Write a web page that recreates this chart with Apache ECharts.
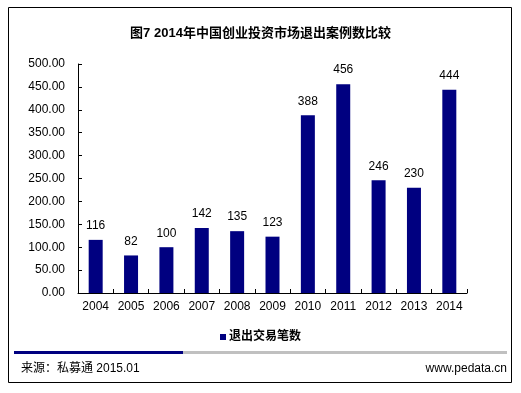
<!DOCTYPE html>
<html><head><meta charset="utf-8">
<script src="https://cdn.jsdelivr.net/npm/echarts@6/dist/echarts.min.js"></script>
<style>html,body{margin:0;padding:0;background:#fff}#c{width:521px;height:393px}</style>
</head><body><div id="c"></div>
<script>
const categories = ['2004','2005','2006','2007','2008','2009','2010','2011','2012','2013','2014'];
const exitCounts = [116,82,100,142,135,123,388,456,246,230,444];
const seriesName = '退出交易笔数';
const titleText = '图7 2014年中国创业投资市场退出案例数比较';
const sourceText = '来源：私募通 2015.01';
const siteText = 'www.pedata.cn';

const chart = echarts.init(document.getElementById('c'), null, {renderer:'canvas'});
const latin = '"Liberation Sans", Arial, sans-serif';
const cjk = '"Liberation Sans", "Noto Sans CJK SC", sans-serif';
chart.setOption({
  animation:false,
  backgroundColor:'#fff',
  title:{text:titleText,left:'center',top:22,textStyle:{fontSize:13,fontWeight:'bold',color:'#000',fontFamily:cjk}},
  legend:{data:[seriesName],left:'center',top:326,icon:'rect',itemWidth:6,itemHeight:6,itemGap:4,
    textStyle:{fontSize:12,fontWeight:'bold',color:'#000',fontFamily:cjk,padding:[0,0,0,-2]}},
  grid:{left:78,right:54,top:64,bottom:100,containLabel:false},
  xAxis:{type:'category',data:categories,
    axisLine:{lineStyle:{color:'#000',width:1}},
    axisTick:{show:true,inside:true,length:4,lineStyle:{color:'#000'}},
    axisLabel:{color:'#000',fontSize:12,fontFamily:latin,margin:8}},
  yAxis:{type:'value',min:0,max:500,interval:50,
    axisLine:{show:true,lineStyle:{color:'#000',width:1}},
    axisTick:{show:true,inside:true,length:4,lineStyle:{color:'#000'}},
    splitLine:{show:false},
    axisLabel:{color:'#000',fontSize:12,fontFamily:latin,margin:13,formatter:v=>v.toFixed(2)}},
  series:[{name:seriesName,type:'bar',data:exitCounts,barWidth:14,
    itemStyle:{color:'#000080'},
    label:{show:true,position:'top',distance:8,color:'#000',fontSize:12,fontFamily:latin}}],
  graphic:[
    {type:'rect',shape:{x:8.5,y:7.5,width:503,height:375},style:{fill:null,stroke:'#000',lineWidth:1},silent:true},
    {type:'rect',shape:{x:14,y:351,width:169,height:3},style:{fill:'#000080'},silent:true},
    {type:'rect',shape:{x:183,y:351,width:324,height:3},style:{fill:'#c0c0c0'},silent:true},
    {type:'text',left:21,top:363,style:{text:sourceText,fontSize:12,fill:'#000',fontFamily:cjk}},
    {type:'text',right:14,top:363,style:{text:siteText,fontSize:12,fill:'#000',fontFamily:latin}}
  ]
});
</script></body></html>
